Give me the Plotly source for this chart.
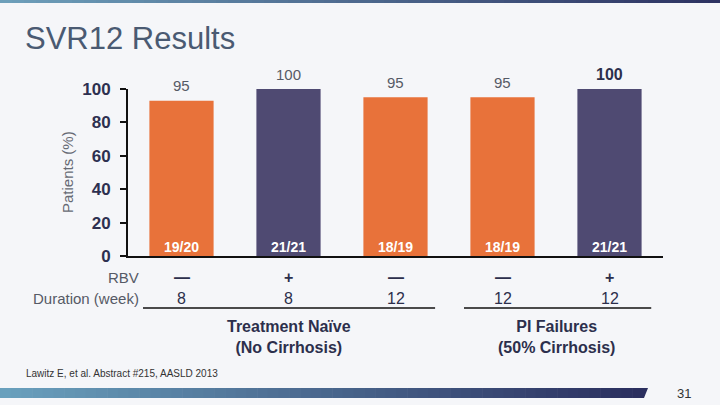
import plotly.graph_objects as go

# ---------------- data ----------------
arms = ["TN 8wk", "TN 8wk +RBV", "TN 12wk", "PI 12wk", "PI 12wk +RBV"]
svr_pct = [93, 100, 95, 95, 100]          # bar heights as drawn
pct_labels = ["95", "100", "95", "95", "100"]
responders = ["19/20", "21/21", "18/19", "18/19", "21/21"]
rbv = ["—", "+", "—", "—", "+"]
duration_wk = ["8", "8", "12", "12", "12"]
group_names = ["Treatment Naïve<br>(No Cirrhosis)", "PI Failures<br>(50% Cirrhosis)"]
group_members = [[0, 1, 2], [3, 4]]
y_ticks = [0, 20, 40, 60, 80, 100]

# ---------------- styles ----------------
W, H = 720, 405
ORANGE = "#e8723a"
PURPLE = "#4f4a72"
bar_colors = [ORANGE, PURPLE, ORANGE, ORANGE, PURPLE]
DARK = "#2c2f4c"
GRAY = "#555a66"
FONT = "Liberation Sans"


def px(x):
    return x / W


def py(y):
    return 1 - y / H


fig = go.Figure()
fig.add_trace(go.Bar(
    x=arms, y=svr_pct, marker=dict(color=bar_colors, line=dict(width=0)),
    width=0.6, hoverinfo="skip", showlegend=False,
))

annotations = []
shapes = []

# labels above bars
for i, (a, v, t) in enumerate(zip(arms, svr_pct, pct_labels)):
    last = i == len(arms) - 1
    annotations.append(dict(
        x=a, y=v, xref="x", yref="y", text=t, showarrow=False,
        yanchor="middle", yshift=15,
        font=dict(family=FONT, size=16 if last else 15,
                  color=DARK if last else GRAY,
                  weight="bold" if last else "normal"),
    ))
    # responders inside bar bottom
    annotations.append(dict(
        x=a, y=0, xref="x", yref="y", text=responders[i], showarrow=False,
        yanchor="bottom", yshift=-1,
        font=dict(family=FONT, size=14, color="white", weight="bold"),
    ))
    annotations.append(dict(
        x=a, y=py(277), xref="x", yref="paper", text=rbv[i], showarrow=False,
        yanchor="middle", font=dict(family=FONT, size=16, color=DARK, weight="bold"),
    ))
    annotations.append(dict(
        x=a, y=py(298), xref="x", yref="paper", text=duration_wk[i], showarrow=False,
        yanchor="middle", font=dict(family=FONT, size=16, color=DARK),
    ))

# row headers
annotations.append(dict(x=px(141), y=py(277), xref="paper", yref="paper", text="RBV",
                        showarrow=False, xanchor="right", yanchor="middle",
                        font=dict(family=FONT, size=15, color=GRAY)))
annotations.append(dict(x=px(141), y=py(298), xref="paper", yref="paper",
                        text="Duration (week)", showarrow=False, xanchor="right",
                        yanchor="middle", font=dict(family=FONT, size=15, color=GRAY)))

# group labels and underlines
for name, members in zip(group_names, group_members):
    c = (members[0] + members[-1]) / 2
    annotations.append(dict(x=c, y=py(337), xref="x", yref="paper", text=name,
                            showarrow=False, yanchor="middle",
                            font=dict(family=FONT, size=16, color=DARK, weight="bold")))
    shapes.append(dict(type="line", xref="x", yref="paper",
                       x0=members[0] - 0.36, x1=members[-1] + 0.37 if len(members) == 3 else members[-1] + 0.39,
                       y0=py(308), y1=py(308),
                       line=dict(color="#111111", width=1.5)))

# y-axis title
annotations.append(dict(x=px(67), y=py(172), xref="paper", yref="paper",
                        text="Patients (%)", textangle=-90, showarrow=False,
                        xanchor="center", yanchor="middle",
                        font=dict(family=FONT, size=15, color="#666a74")))

# title
annotations.append(dict(x=px(23), y=py(38), xref="paper", yref="paper",
                        text="SVR12 Results", showarrow=False, xanchor="left",
                        yanchor="middle", font=dict(family=FONT, size=31, color="#4a5a72")))

# footnote & page number
annotations.append(dict(x=px(24), y=py(373), xref="paper", yref="paper",
                        text="Lawitz E, et al. Abstract #215, AASLD 2013", showarrow=False,
                        xanchor="left", yanchor="middle",
                        font=dict(family=FONT, size=10, color="#333333")))
annotations.append(dict(x=px(684), y=py(393), xref="paper", yref="paper",
                        text="31", showarrow=False, xanchor="center", yanchor="middle",
                        font=dict(family=FONT, size=13, color="#333333")))


# gradient decoration bars
def lerp(c1, c2, t):
    a = [int(c1[i:i + 2], 16) for i in (1, 3, 5)]
    b = [int(c2[i:i + 2], 16) for i in (1, 3, 5)]
    return "rgb(%d,%d,%d)" % tuple(round(a[k] + (b[k] - a[k]) * t) for k in range(3))


def gradient_bar(x0, x1, y0, y1, c1, c2, n=60):
    step = (x1 - x0) / n
    for k in range(n):
        shapes.append(dict(type="rect", xref="paper", yref="paper",
                           x0=px(x0 + k * step), x1=px(x0 + (k + 1) * step + 0.6),
                           y0=py(y1), y1=py(y0),
                           fillcolor=lerp(c1, c2, k / (n - 1)), line=dict(width=0),
                           layer="below"))


gradient_bar(0, 720, 0, 3, "#6d9fba", "#2d3262")
gradient_bar(0, 643, 388, 398, "#69a0bd", "#2b2f5f")
shapes.append(dict(type="path", xref="paper", yref="paper",
                   path="M %f %f L %f %f L %f %f L %f %f Z" % (
                       px(642), py(388), px(648), py(388), px(644), py(398), px(642), py(398)),
                   fillcolor="#2b2f5f", line=dict(width=0), layer="below"))

fig.update_layout(
    width=W, height=H,
    margin=dict(l=0, r=0, t=0, b=0, autoexpand=False),
    paper_bgcolor="#f5f6f9",
    plot_bgcolor="rgba(0,0,0,0)",
    showlegend=False,
    bargap=0.4,
    xaxis=dict(domain=[px(128), px(663)], range=[-0.5, 4.5], showticklabels=False,
               showgrid=False, zeroline=False, showline=True, linecolor="#111111",
               linewidth=2, ticks="", automargin=False),
    yaxis=dict(domain=[py(256), py(89)], range=[0, 100], tickvals=y_ticks,
               showgrid=False, zeroline=False, showline=True, linecolor="#111111",
               linewidth=2, ticks="outside", ticklen=6, tickwidth=2, tickcolor="#111111",
               ticklabelstandoff=6, automargin=False,
               tickfont=dict(family=FONT, size=17, color="#2d3050", weight="bold")),
    annotations=annotations,
    shapes=shapes,
)
fig.update_traces(cliponaxis=False)

fig.write_html(
    "out.html",
    config={"displayModeBar": False},
    post_script=(
        "document.documentElement.style.margin='0';"
        "document.body.style.margin='0';document.body.style.padding='0';"
        "document.body.style.overflow='hidden';"
        "var d=document.getElementById('{plot_id}');"
        "d.style.position='fixed';d.style.left='0px';d.style.top='0px';"
    ),
)
